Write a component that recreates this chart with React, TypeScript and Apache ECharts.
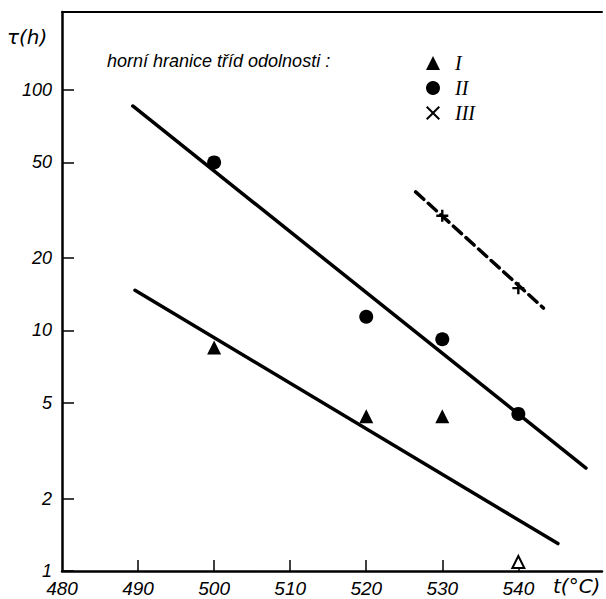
import React, { useEffect, useRef } from 'react';
import * as echarts from 'echarts';

// ---- data ----
const xTickLabels = [480, 490, 500, 510, 520, 530, 540];
const xTicks = [490, 500, 510, 520, 530, 540];
const yTickLabels = [1, 2, 5, 10, 20, 50, 100];
const yMaxValue = 211;

const classI = [[500, 8.5], [520, 4.4], [530, 4.4]];
const classIOpen = [[540, 1.09]];
const classII = [[500, 50], [520, 11.4], [530, 9.2], [540, 4.5]];
const classIII = [[530, 30], [540, 15]];
const fitII = [[489.3, 85.8], [548.9, 2.68]];
const fitI = [[489.6, 14.7], [545.2, 1.3]];
const fitIII = [[526.5, 37.7], [543.3, 12.4]];

const legendTitle = 'horní hranice tříd odolnosti :';
const yTitle = 'τ(h)';
const xTitle = 't(°C)';

const lg = (pts: number[][]) => pts.map(([x, y]) => [x, Math.log10(y)]);

const SANS = '"Liberation Sans", "DejaVu Sans", sans-serif';
const WIDE = '"DejaVu Sans", sans-serif';
const SERIF = '"Liberation Serif", "DejaVu Serif", serif';
const CROSS = 'path://M1,0L5,4L9,0L10,1L6,5L10,9L9,10L5,6L1,10L0,9L4,5L0,1Z';
const PLUS = 'path://M4,0H6V4H10V6H6V10H4V6H0V4H4Z';

export default function App() {
  const ref = useRef<HTMLDivElement>(null);
  useEffect(() => {
    document.body.style.margin = '0';
    const chart = echarts.init(ref.current!, null, { renderer: 'svg' });
    const lineStyle = { color: '#000', width: 3.5, cap: 'round' as const };
    chart.setOption({
      animation: false,
      backgroundColor: '#fff',
      title: {
        text: legendTitle,
        left: 107,
        top: 52,
        padding: 0,
        textStyle: { fontFamily: SANS, fontStyle: 'italic', fontWeight: 'normal', fontSize: 18, color: '#000' },
      },
      legend: {
        orient: 'vertical',
        left: 421,
        top: 48,
        itemWidth: 14,
        itemHeight: 14,
        itemGap: 5,
        selectedMode: false,
        textStyle: { fontFamily: SERIF, fontStyle: 'italic', fontSize: 20, color: '#000', padding: [0, 0, 0, 10] },
        data: [
          { name: 'I', icon: 'triangle' },
          { name: 'II', icon: 'circle' },
          { name: 'III', icon: CROSS },
        ],
      },
      grid: { left: 62, right: 4, top: 12, bottom: 28, containLabel: false },
      xAxis: [
        {
          type: 'value',
          min: 480,
          max: 551,
          interval: 10,
          splitLine: { show: false },
          axisLine: { lineStyle: { color: '#000', width: 2.5 } },
          axisTick: { inside: true, length: 11, lineStyle: { color: '#000', width: 1.5 }, customValues: xTicks },
          axisLabel: {
            customValues: xTickLabels,
            color: '#000',
            fontFamily: SANS,
            fontStyle: 'italic',
            fontSize: 19,
            margin: 8,
            formatter: (v: number) => (v > 545 ? '' : String(v)),
          },
        },
        {
          type: 'value',
          position: 'top',
          min: 480,
          max: 551,
          splitLine: { show: false },
          axisLine: { show: true, lineStyle: { color: '#000', width: 2 } },
          axisTick: { show: false },
          axisLabel: { show: false },
        },
      ],
      yAxis: {
        type: 'value',
        min: 0,
        max: Math.log10(yMaxValue),
        splitLine: { show: false },
        axisLine: { show: true, lineStyle: { color: '#000', width: 2.5 } },
        axisTick: {
          inside: true,
          length: 12,
          lineStyle: { color: '#000', width: 1.5 },
          customValues: yTickLabels.map((v) => Math.log10(v)),
        },
        axisLabel: {
          customValues: yTickLabels.map((v) => Math.log10(v)),
          color: '#000',
          fontFamily: SANS,
          fontStyle: 'italic',
          fontSize: 18,
          margin: 10,
          formatter: (v: number) => String(Math.round(Math.pow(10, v))),
        },
      },
      graphic: [
        { type: 'text', left: 7, top: 27, style: { text: yTitle, font: `oblique 20px ${WIDE}`, fill: '#000' } },
        { type: 'text', left: 553, top: 576, style: { text: xTitle, font: `oblique 20px ${WIDE}`, fill: '#000' } },
      ],
      series: [
        { name: 'fitII', type: 'line', data: lg(fitII), symbol: 'none', lineStyle, silent: true },
        { name: 'fitI', type: 'line', data: lg(fitI), symbol: 'none', lineStyle, silent: true },
        {
          name: 'fitIII',
          type: 'line',
          data: lg(fitIII),
          symbol: 'none',
          lineStyle: { ...lineStyle, type: [11, 6] },
          silent: true,
        },
        { name: 'I', type: 'scatter', data: lg(classI), symbol: 'triangle', symbolSize: 14, itemStyle: { color: '#000', opacity: 1 } },
        {
          name: 'Iopen',
          type: 'scatter',
          data: lg(classIOpen),
          symbol: 'triangle',
          symbolSize: 12,
          itemStyle: { color: '#fff', borderColor: '#000', borderWidth: 2, opacity: 1 },
        },
        { name: 'II', type: 'scatter', data: lg(classII), symbol: 'circle', symbolSize: 14, itemStyle: { color: '#000', opacity: 1 } },
        { name: 'III', type: 'scatter', data: lg(classIII), symbol: PLUS, symbolSize: 12, itemStyle: { color: '#000', opacity: 1 } },
      ],
    });
    return () => chart.dispose();
  }, []);
  return <div ref={ref} style={{ width: 606, height: 599 }} />;
}
